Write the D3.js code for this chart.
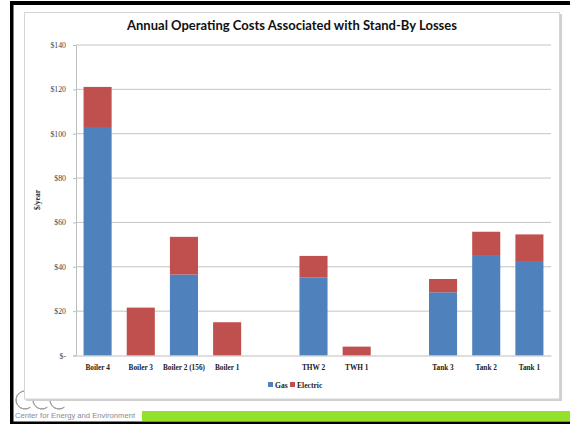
<!DOCTYPE html>
<html>
<head>
<meta charset="utf-8">
<script src="https://cdn.jsdelivr.net/npm/d3@7"></script>
<style>
  html, body { margin: 0; padding: 0; background: #fff; }
  svg { display: block; }
</style>
</head>
<body>
<svg id="chart" width="570" height="424"></svg>
<script>
// ---- data ----
const categories = ["Boiler 4", "Boiler 3", "Boiler 2 (156)", "Boiler 1", "", "THW 2", "TWH 1", " ", "Tank 3", "Tank 2", "Tank 1"];
const gasValues = [102.6, 0, 36.5, 0, 0, 35.1, 0, 0, 28.5, 45.3, 42.2];
const electricValues = [18.5, 21.6, 17.0, 15.0, 0, 9.8, 4.0, 0, 6.0, 10.5, 12.4];
const seriesNames = ["Gas", "Electric"];
const seriesColors = ["#4f81bd", "#c0504d"];
const yTicks = [0, 20, 40, 60, 80, 100, 120, 140];
const titleText = "Annual Operating Costs Associated with Stand-By Losses";
const yAxisTitle = "$/year";
const footerText = "Center for Energy and Environment";

// ---- layout ----
const svg = d3.select("#chart");
const plot = { left: 76, right: 551, top: 45, bottom: 355.5 };

// page frame
svg.append("rect").attr("x", 10).attr("y", 1).attr("width", 560).attr("height", 4).attr("fill", "#000");
svg.append("rect").attr("x", 10).attr("y", 1).attr("width", 3.5).attr("height", 423).attr("fill", "#000");
svg.append("rect").attr("x", 10).attr("y", 421.5).attr("width", 560).attr("height", 2.5).attr("fill", "#000");

// footer logo (drawn first so the chart box hides its top)
const logo = svg.append("g").attr("fill", "none").attr("stroke", "#9a9a9a").attr("stroke-width", 1);
[25, 42, 59].forEach(cx => {
  logo.append("path").attr("d", d3.arc()({ innerRadius: 9, outerRadius: 9, startAngle: 0.8 * Math.PI, endAngle: 2.3 * Math.PI }))
    .attr("transform", `translate(${cx},400)`);
});

// chart box with light shadow
svg.append("rect").attr("x", 26).attr("y", 14).attr("width", 536).attr("height", 387).attr("fill", "#d0d0d0");
svg.append("rect").attr("x", 24.5).attr("y", 12.5).attr("width", 535).attr("height", 386.5)
  .attr("fill", "#fff").attr("stroke", "#d4d4d4").attr("stroke-width", 1);

// footer
svg.append("rect").attr("x", 142).attr("y", 411).attr("width", 428).attr("height", 10).attr("fill", "#95e02a");
svg.append("text").attr("x", 15).attr("y", 418).attr("font-family", "Liberation Sans, Arial, sans-serif")
  .attr("font-size", 7.6).attr("fill", "#8a8a8a").attr("textLength", 120).text(footerText);

// scales
const x = d3.scaleBand().domain(categories).range([plot.left, plot.right]).paddingInner(0.35).paddingOuter(0.175);
const y = d3.scaleLinear().domain([0, 140]).range([plot.bottom, plot.top]);

// gridlines
svg.append("g").selectAll("line").data(yTicks.filter(d => d > 0)).join("line")
  .attr("x1", plot.left).attr("x2", plot.right)
  .attr("y1", d => y(d)).attr("y2", d => y(d))
  .attr("stroke", "#c4c4c4").attr("stroke-width", 1);

// y axis
const yAxis = d3.axisLeft(y).tickValues(yTicks).tickSize(3).tickPadding(7)
  .tickFormat(d => d === 0 ? "$-" : "$" + d);
const yg = svg.append("g").attr("transform", `translate(${plot.left},0)`).call(yAxis);
yg.select(".domain").attr("stroke", "#bdbdbd");
yg.selectAll(".tick line").attr("stroke", "#bdbdbd");
yg.selectAll(".tick text").attr("font-family", "Liberation Serif, serif").attr("font-size", 7.8).attr("fill", "#444");

// stacked data
const rows = categories.map((c, i) => ({ cat: c, Gas: gasValues[i], Electric: electricValues[i] }));
const stack = d3.stack().keys(seriesNames)(rows);
svg.append("g").selectAll("g").data(stack).join("g")
  .attr("fill", (d, i) => seriesColors[i])
  .selectAll("rect").data(d => d.filter(p => p[1] - p[0] > 0)).join("rect")
  .attr("x", d => x(d.data.cat))
  .attr("width", x.bandwidth())
  .attr("y", d => y(d[1]))
  .attr("height", d => y(d[0]) - y(d[1]));

// x axis line
const xAxis = d3.axisBottom(x).tickSize(0).tickPadding(9);
const xg = svg.append("g").attr("transform", `translate(0,${plot.bottom})`).call(xAxis);
xg.select(".domain").attr("stroke", "#bdbdbd");
xg.selectAll(".tick text").attr("font-family", "Liberation Serif, serif").attr("font-weight", "bold")
  .attr("font-size", 7.3).attr("fill", "#222");

// title
svg.append("text").attr("x", 292).attr("y", 30).attr("text-anchor", "middle")
  .attr("font-family", "Lato, 'Open Sans', sans-serif").attr("font-weight", "bold")
  .attr("font-size", 13).attr("fill", "#111").attr("textLength", 330).text(titleText);

// y axis title
svg.append("text").attr("transform", "translate(40,200) rotate(-90)").attr("text-anchor", "middle")
  .attr("font-family", "Liberation Serif, serif").attr("font-weight", "bold").attr("font-size", 7.5)
  .attr("fill", "#222").text(yAxisTitle);

// legend
const legend = svg.append("g");
const legendItems = [{ name: seriesNames[0], x: 268 }, { name: seriesNames[1], x: 290 }];
legendItems.forEach((it, i) => {
  legend.append("rect").attr("x", it.x).attr("y", 382).attr("width", 5).attr("height", 5).attr("fill", seriesColors[i]);
  legend.append("text").attr("x", it.x + 7).attr("y", 387.5).attr("font-family", "Liberation Serif, serif")
    .attr("font-weight", "bold").attr("font-size", 7.6).attr("fill", "#222").text(it.name);
});
</script>
</body>
</html>
